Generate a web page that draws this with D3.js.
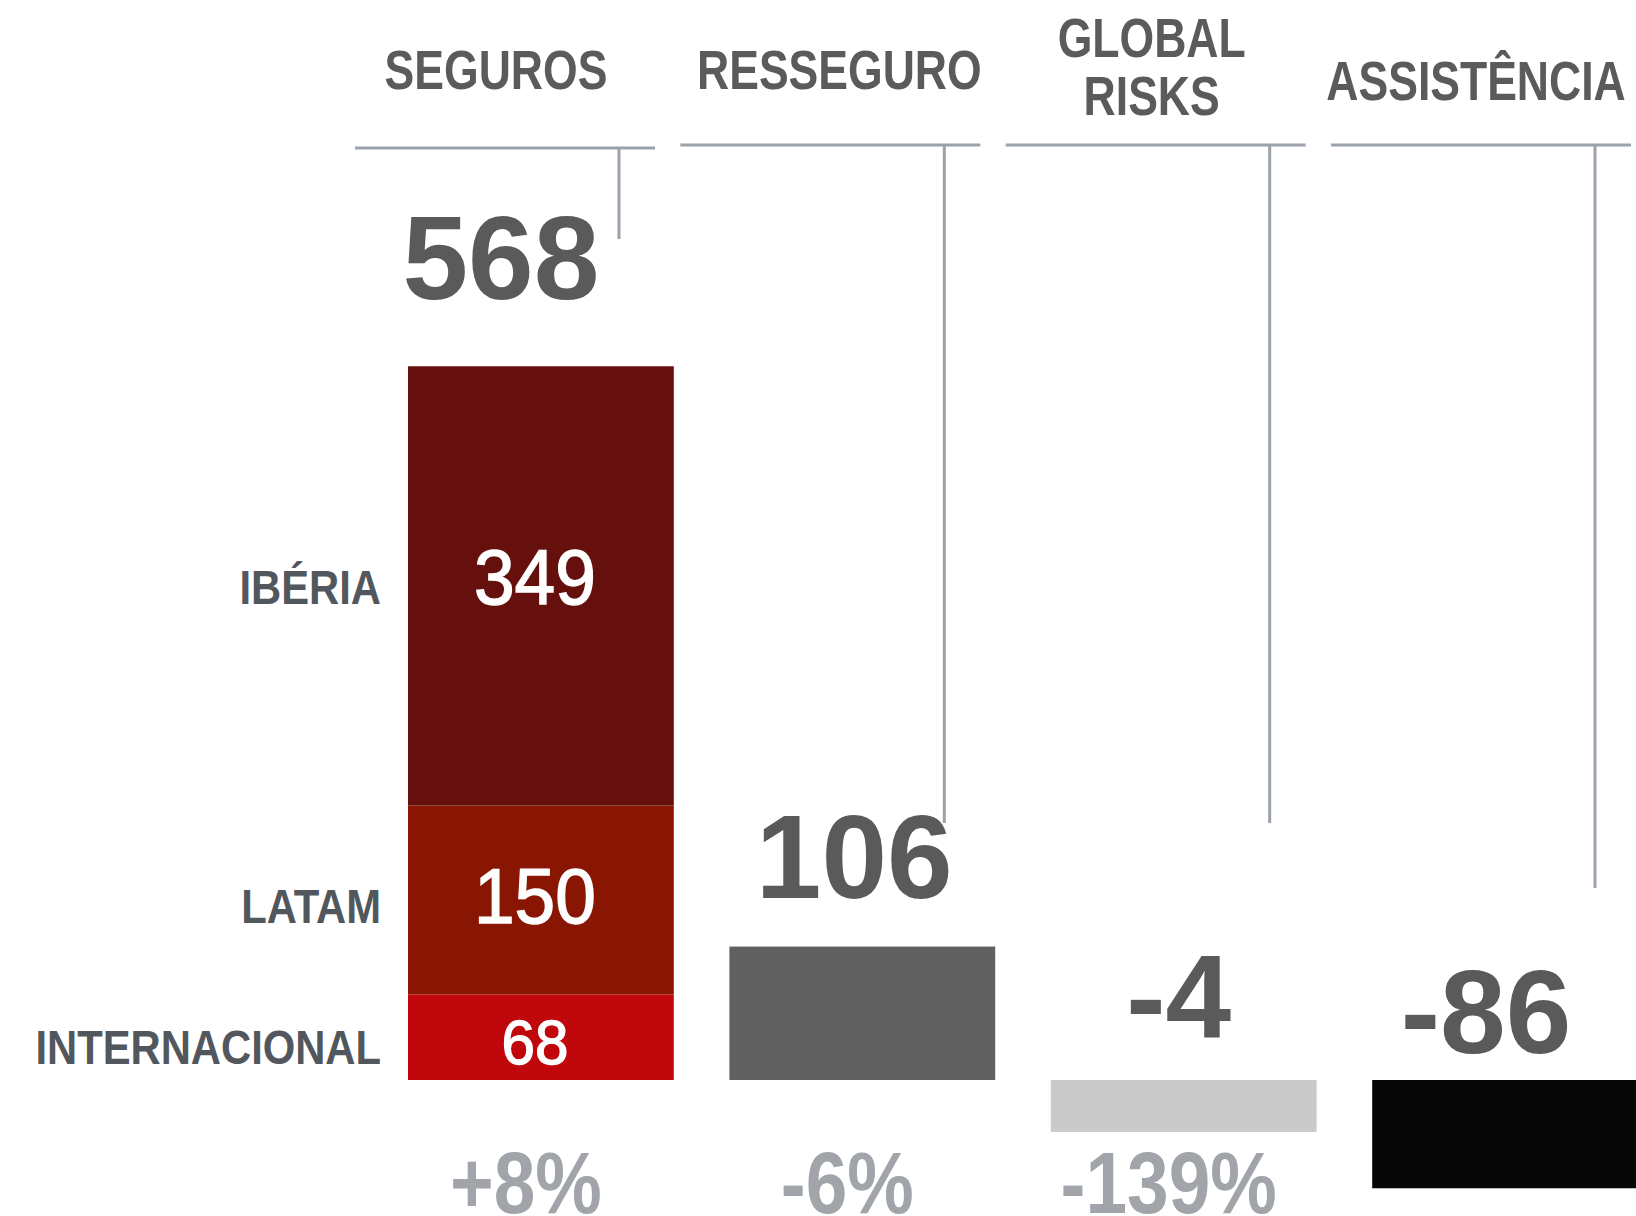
<!DOCTYPE html>
<html>
<head>
<meta charset="utf-8">
<script src="https://cdn.jsdelivr.net/npm/d3@7"></script>
<style>
  html, body { margin: 0; padding: 0; background: #fff; }
  svg { display: block; }
  text { font-family: 'Liberation Sans', Arial, sans-serif; }
</style>
</head>
<body>
<script>
'use strict';

var width = 1636,
    height = 1216;

// data
var categories = ["SEGUROS", "RESSEGURO", "GLOBAL RISKS", "ASSISTÊNCIA"];
var headerText = [["SEGUROS"], ["RESSEGURO"], ["GLOBAL", "RISKS"], ["ASSISTÊNCIA"]];
var totals = [568, 106, -4, -86];
var changes = ["+8%", "-6%", "-139%", ""];
var regions = ["IBÉRIA", "LATAM", "INTERNACIONAL"];
var regionValues = [349, 150, 68];

// colours
var regionColors = ["#66100e", "#891602", "#c0070b"];
var barColors = [null, "#616161", "#cacaca", "#060606"];

// layout tweaks (per column / per region)
var headerBase = [[89], [89], [57, 115], [100]];
var headerDx = [-9, 9, -4, -5];
var ruleY = [148, 145, 145, 145];
var tickEnd = [239, 823, 823, 888];
var totalGap = [67, 49, 42, 27];
var totalDx = [-40, -8, -5, -19];
var regionDy = [-5, 0, 8];
var minBar = 52;

// the original face is a condensed sans; squeeze Liberation Sans horizontally
function place(px, py, sx) {
  return "translate(" + px + "," + py + ") scale(" + sx + ",1)";
}

var x = d3.scaleBand()
  .domain(categories)
  .range([408, 1638])
  .paddingInner(0.173);

var xHead = d3.scaleBand()
  .domain(categories)
  .range([355, 1631])
  .paddingInner(0.078);

var y = d3.scaleLinear()
  .domain([0, 568])
  .range([1080, 365]);

var svg = d3.select("body").append("svg")
  .attr("width", width)
  .attr("height", height);

// headers + rules
var head = svg.selectAll("g.head")
  .data(categories)
  .enter().append("g")
  .attr("class", "head");

head.append("line")
  .attr("x1", function(d) { return xHead(d); })
  .attr("x2", function(d) { return xHead(d) + xHead.bandwidth(); })
  .attr("y1", function(d, i) { return ruleY[i]; })
  .attr("y2", function(d, i) { return ruleY[i]; })
  .attr("stroke", "#9ba2aa")
  .attr("stroke-width", 3);

head.append("line")
  .attr("x1", function(d) { return xHead(d) + xHead.bandwidth() * 0.88; })
  .attr("x2", function(d) { return xHead(d) + xHead.bandwidth() * 0.88; })
  .attr("y1", function(d, i) { return ruleY[i]; })
  .attr("y2", function(d, i) { return tickEnd[i]; })
  .attr("stroke", "#9ba2aa")
  .attr("stroke-width", 3);

head.each(function(d, i) {
  var g = d3.select(this);
  headerText[i].forEach(function(t, j) {
    g.append("text")
      .attr("transform", place(xHead(d) + xHead.bandwidth() / 2 + headerDx[i], headerBase[i][j], 0.81))
      .attr("text-anchor", "middle")
      .attr("font-size", 55)
      .attr("font-weight", "bold")
      .attr("fill", "#5b5b5b")
      .text(t);
  });
});

// stacked seguros bar
var row = {};
regions.forEach(function(r, i) { row[r] = regionValues[i]; });
var stacked = d3.stack().keys(regions.slice().reverse())([row]);

var segs = svg.selectAll("g.seg")
  .data(stacked)
  .enter().append("g")
  .attr("class", "seg");

segs.append("rect")
  .attr("x", x(categories[0]))
  .attr("width", x.bandwidth())
  .attr("y", function(d) { return y(d[0][1]); })
  .attr("height", function(d) { return y(d[0][0]) - y(d[0][1]); })
  .attr("fill", function(d) { return regionColors[regions.indexOf(d.key)]; });

function segFont(d) { return Math.min(77, (y(d[0][0]) - y(d[0][1])) * 0.74); }
function segBase(d) {
  return (y(d[0][0]) + y(d[0][1])) / 2 + segFont(d) * 0.3 + regionDy[regions.indexOf(d.key)];
}

segs.append("text")
  .attr("transform", function(d) {
    return place(x(categories[0]) + x.bandwidth() / 2 - 6, segBase(d), 0.95);
  })
  .attr("text-anchor", "middle")
  .attr("font-size", segFont)
  .attr("fill", "#fff")
  .attr("stroke", "#fff")
  .attr("stroke-width", 1.4)
  .text(function(d) { return row[d.key]; });

segs.append("text")
  .attr("transform", function(d) { return place(381, segBase(d), 0.87); })
  .attr("text-anchor", "end")
  .attr("font-size", 48)
  .attr("font-weight", "bold")
  .attr("fill", "#52575e")
  .text(function(d) { return d.key; });

// single bars
function barTop(v, i) {
  if (i === 0) return y(d3.sum(regionValues));
  var h = Math.max(Math.abs(y(v) - y(0)), minBar);
  return v >= 0 ? y(0) - h : y(0);
}
function barHeight(v) { return Math.max(Math.abs(y(v) - y(0)), minBar); }

svg.selectAll("rect.bar")
  .data(totals.slice(1))
  .enter().append("rect")
  .attr("class", "bar")
  .attr("x", function(d, i) { return x(categories[i + 1]); })
  .attr("width", x.bandwidth())
  .attr("y", function(d, i) { return barTop(d, i + 1); })
  .attr("height", barHeight)
  .attr("fill", function(d, i) { return barColors[i + 1]; });

// totals
svg.selectAll("text.total")
  .data(totals)
  .enter().append("text")
  .attr("class", "total")
  .attr("x", function(d, i) { return x(categories[i]) + x.bandwidth() / 2 + totalDx[i]; })
  .attr("y", function(d, i) {
    var top = d >= 0 ? barTop(d, i) : y(0);
    return top - totalGap[i];
  })
  .attr("text-anchor", "middle")
  .attr("font-size", 118)
  .attr("font-weight", "bold")
  .attr("fill", "#5a5a5a")
  .text(function(d) { return d; });

// change vs previous year
svg.selectAll("text.change")
  .data(changes)
  .enter().append("text")
  .attr("class", "change")
  .attr("transform", function(d, i) { return place(x(categories[i]) + x.bandwidth() / 2 - 15, 1213, 0.85); })
  .attr("text-anchor", "middle")
  .attr("font-size", 88)
  .attr("font-weight", "bold")
  .attr("fill", "#a1a5aa")
  .text(function(d) { return d; });
</script>
</body>
</html>
